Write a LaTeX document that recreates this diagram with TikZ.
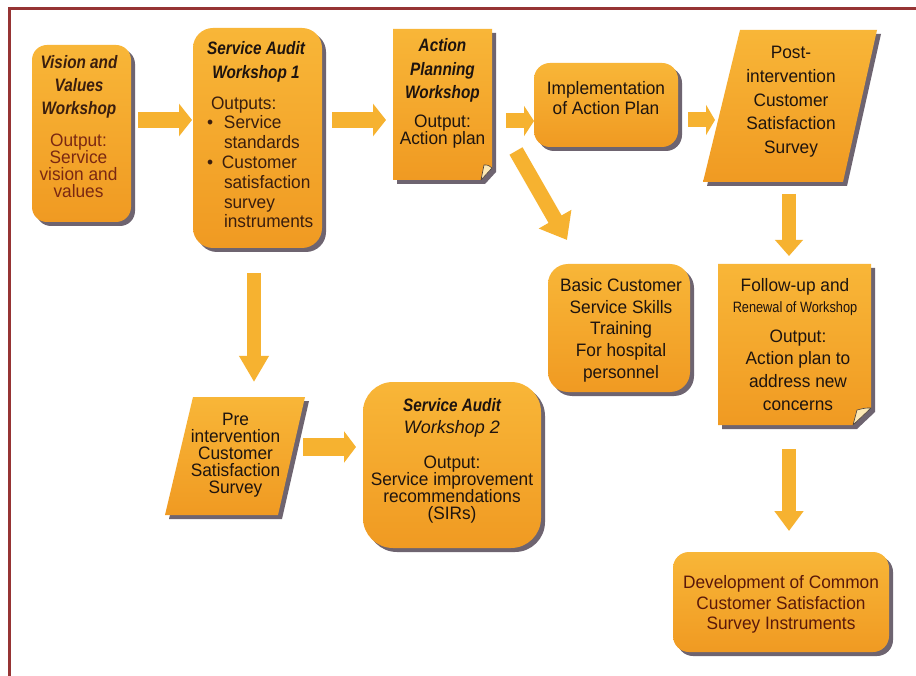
\documentclass[tikz,border=0pt]{standalone}
\usepackage{fontspec}
\setmainfont{Liberation Sans}[FakeStretch=0.96]
\newfontfamily\hdfont{Liberation Sans}[FakeStretch=0.85]
\newfontfamily\plainfont{Liberation Sans}
\usetikzlibrary{shadows,arrows.meta,calc}

\definecolor{orT}{RGB}{248,182,56}
\definecolor{orB}{RGB}{240,154,34}
\definecolor{arrowc}{RGB}{246,178,48}
\definecolor{shadowc}{RGB}{110,100,112}
\definecolor{framec}{RGB}{150,52,52}
\definecolor{txtc}{RGB}{30,20,15}
\definecolor{vvhead}{RGB}{58,30,14}
\definecolor{vvbody}{RGB}{122,40,18}
\definecolor{devc}{RGB}{90,24,10}
\definecolor{foldc}{RGB}{252,232,180}

\newcommand{\fsz}[2]{\fontsize{#1}{#2}\selectfont\lineskiplimit=-40pt\lineskip=0pt}
\newcommand{\hd}{\hdfont\bfseries\itshape}

\tikzset{
  boxfill/.style={top color=orT, bottom color=orB, draw=none},
  shad/.style={drop shadow={shadow xshift=4pt, shadow yshift=-4pt, fill=shadowc, opacity=1}},
  rbox/.style={rectangle, boxfill, shad, inner sep=0pt, outer sep=0pt},
  frame/.style={rectangle, draw=none, inner sep=0pt, outer sep=0pt},
  shapefill/.style={boxfill, shad},
  fold/.style={fill=foldc, draw=txtc!80, line width=0.6pt, line join=round},
  txt/.style={inner sep=0pt, outer sep=0pt, align=center, anchor=north, text=txtc},
  harrow/.style={draw=arrowc, line width=16pt, -{Triangle[length=13pt,width=32pt]}},
  varrow/.style={draw=arrowc, line width=13.5pt, -{Triangle[length=20pt,width=28pt]}},
}

\begin{document}
\begin{tikzpicture}[x=1pt,y=-1pt]
\useasboundingbox (0,0) rectangle (916,676);
\fill[white] (0,0) rectangle (916,676);
% frame
\draw[framec, line width=3pt] (9.5,676) -- (9.5,8.5) -- (916,8.5);

% ---------- shapes ----------
\node[rbox, rounded corners=15pt, minimum width=99pt, minimum height=177pt] (vv) at (81.5,133.5) {};
\node[rbox, rounded corners=20pt, minimum width=129pt, minimum height=220pt] (saw1) at (257.5,138) {};
\node[frame, minimum width=99pt, minimum height=151pt] (ap) at (442.5,104.5) {};
\node[rbox, rounded corners=16pt, minimum width=144pt, minimum height=84pt] (impl) at (606,105) {};
\node[frame, minimum width=174pt, minimum height=152pt] (post) at (790,106) {};
\node[rbox, rounded corners=20pt, minimum width=142pt, minimum height=128pt] (basic) at (619,328) {};
\node[frame, minimum width=153pt, minimum height=161pt] (fu) at (794.5,344.5) {};
\node[frame, minimum width=140pt, minimum height=118pt] (pre) at (235,456) {};
\node[rbox, rounded corners=30pt, minimum width=178pt, minimum height=166pt] (saw2) at (452,465) {};
\node[rbox, rounded corners=16pt, minimum width=216pt, minimum height=100pt] (dev) at (781,602) {};

% note shapes (folded corner)
\path[shapefill] (ap.north west) -- (ap.north east) -- ($(ap.south east)+(0,-12)$)
  -- ($(ap.south east)+(-11,0)$) -- (ap.south west) -- cycle;
\path[fold] ($(ap.south east)+(-11,0)$) -- ($(ap.south east)+(-8,-15)$)
  .. controls ($(ap.south east)+(-4,-15)$) .. ($(ap.south east)+(0,-12)$) -- cycle;
\path[shapefill] (fu.north west) -- (fu.north east) -- ($(fu.south east)+(0,-17)$)
  -- ($(fu.south east)+(-18,0)$) -- (fu.south west) -- cycle;
\path[fold] ($(fu.south east)+(-18,0)$) -- ($(fu.south east)+(-14,-15)$)
  .. controls ($(fu.south east)+(-6,-17)$) .. ($(fu.south east)+(0,-17)$) -- cycle;

% parallelograms
\path[shapefill] ($(post.north west)+(37,0)$) -- (post.north east)
  -- ($(post.south east)+(-34,0)$) -- (post.south west) -- cycle;
\path[shapefill] ($(pre.north west)+(28,0)$) -- (pre.north east)
  -- ($(pre.south east)+(-27,0)$) -- (pre.south west) -- cycle;

% ---------- texts ----------
\node[txt, text=vvhead, font=\hd\fsz{18}{23}] (vvh) at (79,55.5) {Vision and\\Values\\Workshop};
\node[txt, text=vvbody, font=\fsz{18}{17}] (vvb) at (78.5,133.5) {Output:\\Service\\vision and\\values};

\node[txt, font=\hd\fsz{18}{24}] (saw1h) at (256,41.5) {Service Audit\\Workshop 1};
\node[txt, anchor=north west, align=left, text=vvhead, font=\fsz{18}{19.8}] (saw1b) at (207,96.5)
  {\hspace*{4pt}Outputs:\\
   \makebox[17pt][l]{\textbullet}Service\\
   \hspace*{17pt}standards\\
   \makebox[15pt][l]{\textbullet}Customer\\
   \hspace*{17pt}satisfaction\\
   \hspace*{17pt}survey\\
   \hspace*{17pt}instruments};

\node[txt, font=\hd\fsz{18}{23.5}] (aph) at (442.5,38.5) {Action\\Planning\\Workshop};
\node[txt, font=\fsz{18}{17}] (apb) at (442.5,115) {Output:\\Action plan};

\node[txt, font=\fsz{18}{20}] (implt) at (606,81.5) {Implementation\\of Action Plan};

\node[txt, font=\fsz{18}{23.7}] (postt) at (791,46.5)
  {Post-\\intervention\\Customer\\Satisfaction\\Survey};

\node[txt, font=\fsz{18}{21.7}] (basict) at (621,278.5)
  {Basic Customer\\Service Skills\\Training\\For hospital\\personnel};

\node[txt, font=\fsz{18}{21}] (fuh) at (795,278.5)
  {Follow-up and\\{\hdfont\fontsize{15}{21}\selectfont Renewal of Workshop}};
\node[txt, font=\fsz{18}{22.7}] (fub) at (798,329.5)
  {Output:\\Action plan to\\address new\\concerns};

\node[txt, font=\fsz{18}{17}] (pret) at (235.5,413.5)
  {Pre\\intervention\\Customer\\Satisfaction\\Survey};

\node[txt, font=\fsz{18}{22}] (saw2h) at (452,398.5)
  {{\hd Service Audit}\\{\plainfont\itshape Workshop 2}};
\node[txt, font=\fsz{18}{17}] (saw2b) at (452,455.5)
  {Output:\\Service improvement\\recommendations\\(SIRs)};

\node[txt, text=devc, font=\fsz{18}{20.5}] (devt) at (781,575.5)
  {Development of Common\\Customer Satisfaction\\Survey Instruments};

% ---------- arrows ----------
\draw[harrow] ($(vv.east)+(7,-13.5)$) -- ($(saw1.west)+(-1,-18)$);
\draw[harrow] ($(saw1.east)+(10,-18)$) -- ($(ap.west)+(-7,15.5)$);
\draw[harrow, -{Triangle[length=10pt,width=30pt]}, line width=15pt] ($(ap.east)+(14,16.5)$) -- ($(impl.west)+(0,16)$);
\draw[harrow, line width=15pt, -{Triangle[length=9pt,width=30pt]}] ($(impl.east)+(10,15)$) -- ($(post.west)+(12,14)$);
\draw[harrow, line width=15pt, -{Triangle[length=24pt,width=36pt]}] ($(ap.south east)+(24,-29)$) -- ($(basic.north west)+(19,-24)$);
\draw[varrow, -{Triangle[length=26pt,width=28pt]}] ($(saw1.south)+(-3.5,25)$) -- ($(pre.north)+(19,-15)$);
\draw[harrow, line width=18pt, -{Triangle[length=12pt,width=31pt]}] ($(pre.east)+(-2,-9)$) -- ($(saw2.west)+(-7,-18)$);
\draw[varrow, -{Triangle[length=16pt,width=27pt]}] ($(post.south)+(-1,12)$) -- ($(fu.north)+(-5.5,-8)$);
\draw[varrow] ($(fu.south)+(-5.5,24)$) -- ($(dev.north)+(8,-21)$);
\end{tikzpicture}
\end{document}
